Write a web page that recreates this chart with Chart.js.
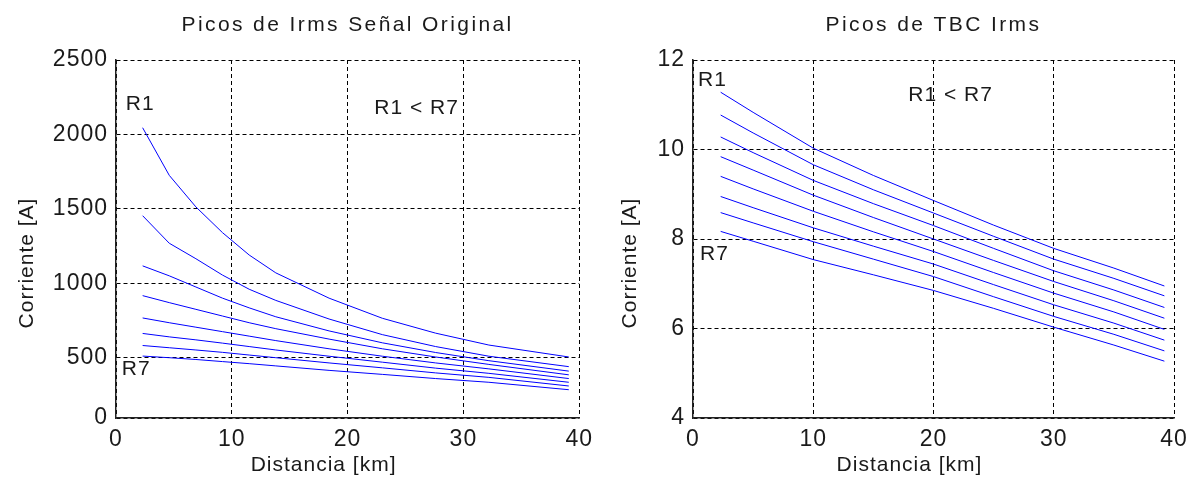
<!DOCTYPE html>
<html>
<head>
<meta charset="utf-8">
<script src="https://cdn.jsdelivr.net/npm/chart.js@4.4.0/dist/chart.umd.min.js"></script>
<style>
  body { margin: 0; background: #fff; }
  .panel { position: absolute; top: 0; }
</style>
</head>
<body>
<div class="panel" style="left:0"><canvas id="graphique1" width="600" height="487"></canvas></div>
<div class="panel" style="left:600px"><canvas id="graphique2" width="598" height="487"></canvas></div>
<script>
// distances (km) des points calcules
const distLeft = [2.3, 4.6, 6.9, 9.2, 11.5, 13.8, 18.4, 23, 27.6, 32.2, 39.1];
const distRight = [2.3, 5, 10, 15, 20, 25, 30, 35, 39.2];

// picos de Irms, senal original [A]
const irms1 = [2045, 1725, 1513, 1340, 1190, 1070, 900, 765, 665, 585, 505];
const irms2 = [1454, 1269, 1165, 1055, 960, 885, 760, 655, 575, 510, 440];
const irms3 = [1117, 1050, 975, 900, 835, 775, 680, 600, 535, 480, 410];
const irms4 = [917, 870, 825, 780, 735, 695, 625, 560, 505, 455, 385];
const irms5 = [767, 735, 705, 675, 645, 615, 560, 510, 465, 425, 360];
const irms6 = [663, 640, 620, 598, 575, 552, 510, 470, 430, 395, 335];
const irms7 = [582, 567, 552, 536, 518, 500, 465, 432, 398, 368, 310];
const irms8 = [511, 500, 488, 474, 460, 445, 415, 388, 360, 335, 285];

// picos de TBC Irms [A]
const tbc1 = [11.28, 10.83, 10.03, 9.42, 8.86, 8.31, 7.79, 7.35, 6.95];
const tbc2 = [10.77, 10.37, 9.66, 9.10, 8.58, 8.06, 7.55, 7.12, 6.73];
const tbc3 = [10.28, 9.93, 9.31, 8.79, 8.30, 7.79, 7.29, 6.86, 6.47];
const tbc4 = [9.84, 9.54, 8.98, 8.48, 8.00, 7.52, 7.05, 6.62, 6.23];
const tbc5 = [9.40, 9.12, 8.62, 8.16, 7.72, 7.25, 6.79, 6.37, 5.98];
const tbc6 = [8.95, 8.70, 8.25, 7.84, 7.44, 6.98, 6.53, 6.12, 5.74];
const tbc7 = [8.59, 8.36, 7.94, 7.55, 7.16, 6.71, 6.27, 5.87, 5.50];
const tbc8 = [8.17, 7.95, 7.54, 7.20, 6.85, 6.45, 6.03, 5.63, 5.27];

// graduations
const xTicks = [0, 10, 20, 30, 40];
const yLeftTicks = [95, 500, 1000, 1500, 2000, 2500];   // le bas de l'axe porte l'etiquette "0"
const yRightTicks = [4, 6, 8, 10, 12];

const police = "'Liberation Sans', Arial, sans-serif";
const encre = '#1a1a1a';

function getDatasets(dist, series){
  return series.map(serie => ({
    data: serie.map((v, i) => ({x: dist[i], y: v})),
    borderColor: '#0000ff',
    borderWidth: 1,
    pointRadius: 0,
    tension: 0,
    fill: false
  }));
}

function texte(ctx, str, x, y, size, spacing, align, angle){
  ctx.save();
  ctx.translate(x, y);
  if (angle) ctx.rotate(angle);
  ctx.letterSpacing = spacing + 'px';
  ctx.font = size + "px " + police;
  ctx.fillStyle = encre;
  ctx.textAlign = align;
  ctx.textBaseline = 'middle';
  ctx.fillText(str, 0, 0);
  ctx.restore();
}

// titre, noms des axes et textes R1 / R7
const etiquettes = {
  id: 'etiquettes',
  beforeDraw(chart){ chart.ctx.letterSpacing = '1px'; },
  afterDraw(chart, args, opts){
    const ctx = chart.ctx;
    const {x, y} = chart.scales;
    const a = chart.chartArea;
    const cx = (a.left + a.right) / 2;
    const cy = (a.top + a.bottom) / 2;
    texte(ctx, opts.title, cx, 25, 21, 2.4, 'center');
    texte(ctx, 'Distancia [km]', cx - 24, 465, 21, 1, 'center');
    texte(ctx, 'Corriente [A]', opts.yTitleX, cy + 24, 21, 1, 'center', -Math.PI / 2);
    opts.items.forEach(it => texte(ctx, it.text, x.getPixelForValue(it.x), y.getPixelForValue(it.y), 21, 1, 'left'));
  }
};

function getOptions(cfg){
  const grille = { color: '#000', lineWidth: 1, drawTicks: false };
  const bord = { display: true, color: '#222', width: 1.5, dash: [4, 3] };
  return {
    responsive: false,
    animation: false,
    events: [],
    layout: { padding: { left: 0, right: cfg.padRight, top: 60, bottom: 0 } },
    plugins: {
      legend: { display: false },
      tooltip: { enabled: false },
      title: { display: false },
      etiquettes: { title: cfg.title, yTitleX: cfg.yTitleX, items: cfg.notes }
    },
    scales: {
      x: {
        type: 'linear', min: xTicks[0], max: xTicks[xTicks.length - 1],
        ticks: { color: encre, padding: 8, font: { family: police, size: 23 } },
        afterBuildTicks: s => { s.ticks = xTicks.map(v => ({value: v})); },
        grid: grille, border: bord,
        afterFit: s => { s.height = 69; }
      },
      y: {
        type: 'linear', min: cfg.yTicks[0], max: cfg.yTicks[cfg.yTicks.length - 1],
        ticks: {
          color: encre, padding: 8, font: { family: police, size: 23 },
          callback: v => (v === yLeftTicks[0] ? '0' : v)
        },
        afterBuildTicks: s => { s.ticks = cfg.yTicks.map(v => ({value: v})); },
        grid: grille, border: bord,
        afterFit: s => { s.width = cfg.yWidth; }
      }
    }
  };
}

new Chart(document.getElementById('graphique1'), {
  type: 'line',
  data: { datasets: getDatasets(distLeft, [irms1, irms2, irms3, irms4, irms5, irms6, irms7, irms8]) },
  options: getOptions({
    title: 'Picos de Irms Señal Original', padRight: 14, yWidth: 116, yTitleX: 27,
    yTicks: yLeftTicks,
    notes: [
      { text: 'R1', x: 0.85, y: 2205 },
      { text: 'R7', x: 0.5, y: 426 },
      { text: 'R1 < R7', x: 22.3, y: 2178 }
    ]
  }),
  plugins: [etiquettes]
});

new Chart(document.getElementById('graphique2'), {
  type: 'line',
  data: { datasets: getDatasets(distRight, [tbc1, tbc2, tbc3, tbc4, tbc5, tbc6, tbc7, tbc8]) },
  options: getOptions({
    title: 'Picos de TBC Irms', padRight: 24, yWidth: 93, yTitleX: 30,
    yTicks: yRightTicks,
    notes: [
      { text: 'R1', x: 0.42, y: 11.55 },
      { text: 'R7', x: 0.58, y: 7.66 },
      { text: 'R1 < R7', x: 17.9, y: 11.22 }
    ]
  }),
  plugins: [etiquettes]
});
</script>
</body>
</html>
